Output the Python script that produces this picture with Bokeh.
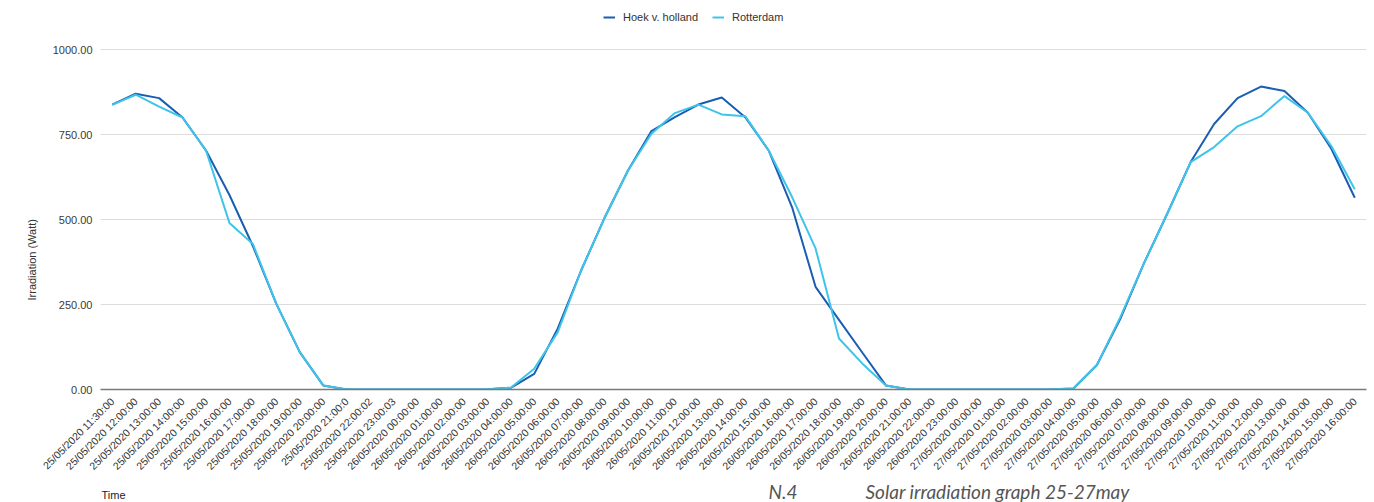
import math
from bokeh.plotting import figure
from bokeh.layouts import column
from bokeh.models import (FactorRange, Range1d, Legend, LegendItem, Label, Title,
                          NumeralTickFormatter, FixedTicker)
from bokeh.embed import file_html
from bokeh.resources import INLINE

# ---------------- data ----------------
times = (
    ["25/05/2020 11:30:00"]
    + ["25/05/2020 %02d:00:00" % h for h in range(12, 21)]
    + ["25/05/2020 21:00:0", "25/05/2020 22:00:02", "25/05/2020 23:00:03"]
    + ["26/05/2020 %02d:00:00" % h for h in range(0, 24)]
    + ["27/05/2020 %02d:00:00" % h for h in range(0, 17)]
)

hoek = [838, 870, 857, 800, 703, 572, 422, 252, 110, 12, 0, 0, 0,
        0, 0, 0, 1, 5, 46, 179, 350, 505, 644, 760, 801, 838, 859, 801, 703,
        536, 302, 205, 108, 12, 0, 0, 0,
        0, 0, 0, 0, 3, 72, 208, 370, 517, 669, 781, 857, 891, 878, 814, 708, 564]

rotterdam = [837, 867, 832, 800, 703, 490, 428, 252, 110, 12, 0, 0, 0,
             0, 0, 0, 1, 5, 61, 168, 350, 505, 644, 752, 813, 838, 809, 804, 703,
             566, 415, 150, 76, 12, 0, 0, 0,
             0, 0, 0, 1, 3, 72, 213, 370, 517, 669, 713, 774, 804, 863, 814, 716, 589]

y_ticks = [0, 250, 500, 750, 1000]
series_names = ["Hoek v. holland", "Rotterdam"]
colors = ["#1a5db2", "#3ec4ea"]
y_label = "Irradiation (Watt)"
x_label = "Time"
caption_num = "N.4"
caption = "Solar irradiation graph 25-27may"

# ---------------- main figure ----------------
W = 1374
H1 = 479
FRAME_TOP, FRAME_BOTTOM = 5, 389      # 0 at y=389, 1000 at y=49 (0.34 px per unit)
LEFT, RIGHT = 100, 8
Y_MAX = (FRAME_BOTTOM - FRAME_TOP) / 0.34   # headroom above 1000 for the legend

p = figure(width=W, height=H1, x_range=FactorRange(*times), y_range=Range1d(0, Y_MAX),
           output_backend="svg", toolbar_location=None,
           min_border_left=LEFT, min_border_right=RIGHT,
           min_border_top=FRAME_TOP, min_border_bottom=H1 - FRAME_BOTTOM)
p.outline_line_color = None

r1 = p.line(times, hoek, line_color=colors[0], line_width=2)
r2 = p.line(times, rotterdam, line_color=colors[1], line_width=2)

p.xgrid.grid_line_color = None
p.ygrid.ticker = FixedTicker(ticks=y_ticks)
p.ygrid.grid_line_color = "#dcdcdc"
p.ygrid.grid_line_width = 1.2

p.yaxis.ticker = FixedTicker(ticks=y_ticks)
p.yaxis.formatter = NumeralTickFormatter(format="0.00")
p.yaxis.axis_line_color = None
p.yaxis.major_tick_line_color = None
p.yaxis.minor_tick_line_color = None
p.yaxis.major_label_text_font = "Liberation Sans"
p.yaxis.major_label_text_font_size = "11px"
p.yaxis.major_label_text_color = "#3a3a3a"
p.yaxis.major_label_standoff = 2

p.xaxis.axis_line_color = "#7a7a7a"
p.xaxis.axis_line_width = 1.3
p.xaxis.major_tick_line_color = None
p.xaxis.minor_tick_line_color = None
p.xaxis.major_label_orientation = math.pi / 4
p.xaxis.major_label_text_font = "Liberation Sans"
p.xaxis.major_label_text_font_size = "10.5px"
p.xaxis.major_label_text_color = "#333333"
p.xaxis.major_label_standoff = 4

# y-axis title (side panel, shifted toward the bottom like the reference)
p.add_layout(Title(text=y_label, align="left", offset=89,
                   text_font="Liberation Sans", text_font_size="11px",
                   text_font_style="normal", text_color="#333333", standoff=24), "left")

# legend inside the frame's headroom, above the 1000 grid line
legend = Legend(items=[LegendItem(label=series_names[0], renderers=[r1]),
                       LegendItem(label=series_names[1], renderers=[r2])],
                orientation="horizontal", location=(503, FRAME_BOTTOM - 23),
                padding=0, margin=0, spacing=14, label_standoff=8,
                glyph_width=12, glyph_height=6, label_height=12,
                label_text_font="Liberation Sans", label_text_font_size="11px",
                label_text_color="#333333",
                background_fill_alpha=0, border_line_color=None)
p.add_layout(legend, "center")

# ---------------- bottom strip with the captions ----------------
H2 = 502 - H1
p2 = figure(width=W, height=H2, x_range=Range1d(LEFT, W - RIGHT), y_range=Range1d(0, H2),
            output_backend="svg", toolbar_location=None,
            x_axis_location=None, y_axis_location=None,
            min_border=0, min_border_left=LEFT, min_border_right=RIGHT)
p2.outline_line_color = None
p2.xgrid.grid_line_color = None
p2.ygrid.grid_line_color = None

p2.add_layout(Label(x=101, y=8, text=x_label, text_align="left", text_baseline="middle",
                    text_font="Liberation Sans", text_font_size="11px",
                    text_color="#222222"))
p2.add_layout(Label(x=768, y=11.5, text=caption_num, text_align="left",
                    text_baseline="middle",
                    text_font="Lato", text_font_style="italic", text_font_size="19px",
                    text_color="#555555"))
p2.add_layout(Label(x=865, y=11.5, text=caption, text_align="left",
                    text_baseline="middle",
                    text_font="Lato", text_font_style="italic", text_font_size="19px",
                    text_color="#555555"))

layout = column(p, p2, spacing=0)
open("out.html", "w").write(file_html(layout, INLINE))
